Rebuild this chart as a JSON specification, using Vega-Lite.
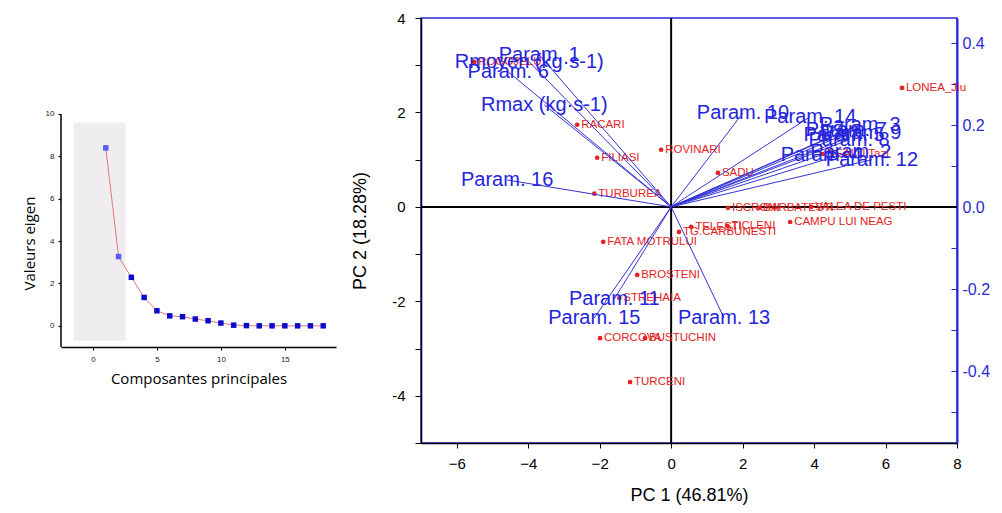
{
  "$schema": "https://vega.github.io/schema/vega-lite/v6.json",
  "padding": {"left": 22, "top": 10, "right": 0, "bottom": 0},
  "spacing": 14,
  "bounds": "full",
  "config": {"font": "Liberation Sans", "view": {"stroke": null}, "axis": {"grid": false, "labelOverlap": false}},
  "datasets": {
    "eigen": [
      {"pc": 1, "ev": 8.4}, {"pc": 2, "ev": 3.27}, {"pc": 3, "ev": 2.29}, {"pc": 4, "ev": 1.34},
      {"pc": 5, "ev": 0.71}, {"pc": 6, "ev": 0.47}, {"pc": 7, "ev": 0.43}, {"pc": 8, "ev": 0.32},
      {"pc": 9, "ev": 0.24}, {"pc": 10, "ev": 0.13}, {"pc": 11, "ev": 0.03}, {"pc": 12, "ev": 0.01},
      {"pc": 13, "ev": 0.0}, {"pc": 14, "ev": 0.0}, {"pc": 15, "ev": 0.0}, {"pc": 16, "ev": 0.0},
      {"pc": 17, "ev": 0.0}, {"pc": 18, "ev": 0.0}
    ],
    "loadings": [
      {"name": "Param. 1", "ox": 0, "oy": 0, "x": -3.69, "y": 3.22},
      {"name": "Rmoyen (kg·s-1)", "ox": 0, "oy": 0, "x": -3.97, "y": 3.07},
      {"name": "Param. 6", "ox": 0, "oy": 0, "x": -4.56, "y": 2.86},
      {"name": "Rmax (kg·s-1)", "ox": 0, "oy": 0, "x": -3.55, "y": 2.16},
      {"name": "Param. 16", "ox": 0, "oy": 0, "x": -4.59, "y": 0.57},
      {"name": "Param. 10", "ox": 0, "oy": 0, "x": 2.01, "y": 1.99},
      {"name": "Param. 14", "ox": 0, "oy": 0, "x": 3.89, "y": 1.91},
      {"name": "Param. 3", "ox": 0, "oy": 0, "x": 5.29, "y": 1.74},
      {"name": "Param. 9", "ox": 0, "oy": 0, "x": 5.31, "y": 1.57},
      {"name": "Param. 7", "ox": 0, "oy": 0, "x": 4.9, "y": 1.63},
      {"name": "Param. 8", "ox": 0, "oy": 0, "x": 4.98, "y": 1.42},
      {"name": "Param. 5", "ox": 0, "oy": 0, "x": 4.84, "y": 1.53},
      {"name": "Param. 2", "ox": 0, "oy": 0, "x": 5.03, "y": 1.17},
      {"name": "Param. 4", "ox": 0, "oy": 0, "x": 4.2, "y": 1.1},
      {"name": "Param. 12", "ox": 0, "oy": 0, "x": 5.62, "y": 1.0},
      {"name": "Param. 11", "ox": 0, "oy": 0, "x": -1.59, "y": -1.95},
      {"name": "Param. 15", "ox": 0, "oy": 0, "x": -2.15, "y": -2.35},
      {"name": "Param. 13", "ox": 0, "oy": 0, "x": 1.48, "y": -2.35}
    ],
    "obs": [
      {"site": "LONEA_Jiu", "x": 6.46, "y": 2.52},
      {"site": "ROGOJELU", "x": -5.51, "y": 3.07},
      {"site": "RACARI", "x": -2.63, "y": 1.74},
      {"site": "ROVINARI", "x": -0.28, "y": 1.21},
      {"site": "FILIASI", "x": -2.07, "y": 1.04},
      {"site": "SADU", "x": 1.31, "y": 0.72},
      {"site": "TURBUREA", "x": -2.15, "y": 0.28},
      {"site": "DEALU Tazi", "x": 4.25, "y": 1.12},
      {"site": "ISCRONI", "x": 1.59, "y": -0.02},
      {"site": "BARBATESTI", "x": 2.46, "y": -0.02},
      {"site": "VALEA DE PESTI", "x": 3.92, "y": 0.0},
      {"site": "CAMPU LUI NEAG", "x": 3.33, "y": -0.32},
      {"site": "TELESTI", "x": 0.56, "y": -0.42},
      {"site": "TICLENI", "x": 1.57, "y": -0.4},
      {"site": "TG.CARBUNESTI", "x": 0.22, "y": -0.53},
      {"site": "FATA MOTRULUI", "x": -1.9, "y": -0.74},
      {"site": "BROSTENI", "x": -0.95, "y": -1.44},
      {"site": "STREHAIA", "x": -1.45, "y": -1.93},
      {"site": "CORCOVA", "x": -1.99, "y": -2.78},
      {"site": "BUSTUCHIN", "x": -0.73, "y": -2.78},
      {"site": "TURCENI", "x": -1.15, "y": -3.71}
    ]
  },
  "hconcat": [
    {
      "width": 275,
      "height": 329,
      "layer": [
        {
          "data": {"values": [{"x1": -1.5, "x2": 2.55, "y1": -0.7, "y2": 9.6}]},
          "mark": {"type": "rect", "color": "#efedef"},
          "encoding": {
            "x": {"field": "x1", "type": "quantitative",
              "scale": {"domain": [-2.5, 19], "nice": false, "zero": false},
              "axis": {"title": "Composantes principales", "values": [0, 2.5, 5, 7.5, 10, 12.5, 15, 17.5],
                "labelOpacity": {"condition": {"test": "datum.value % 5 != 0", "value": 0}, "value": 1},
                "domainColor": "black", "domainWidth": 1.5, "tickColor": "black", "tickSize": 3,
                "labelFontSize": 8, "labelColor": "#222", "labelPadding": 5, "labelFlush": false,
                "titleFont": "Open Sans", "titleFontSize": 15, "titleFontWeight": "normal", "titleColor": "black", "titlePadding": 8}},
            "x2": {"field": "x2"},
            "y": {"field": "y1", "type": "quantitative",
              "scale": {"domain": [-1, 14.53], "nice": false, "zero": false},
              "axis": {"title": "Valeurs eigen", "values": [0, 2, 4, 6, 8, 10],
                "domain": false,
                "tickColor": "black", "tickSize": 3, "tickWidth": 1.2,
                "labelFontSize": 8, "labelColor": "#222", "labelPadding": 4,
                "titleFont": "Open Sans", "titleFontSize": 15, "titleFontWeight": "normal", "titleColor": "black", "titlePadding": 8, "titleY": 225}},
            "y2": {"field": "y2"}
          }
        },
        {
          "data": {"values": [{"ax": -2.5, "lo": -1, "hi": 10}]},
          "mark": {"type": "rule", "color": "black", "strokeWidth": 1.5},
          "encoding": {
            "x": {"field": "ax", "type": "quantitative"},
            "y": {"field": "lo", "type": "quantitative"},
            "y2": {"field": "hi"}
          }
        },
        {
          "data": {"name": "eigen"},
          "mark": {"type": "line", "color": "#e07878", "strokeWidth": 1},
          "encoding": {
            "x": {"field": "pc", "type": "quantitative"},
            "y": {"field": "ev", "type": "quantitative"}
          }
        },
        {
          "data": {"name": "eigen"},
          "mark": {"type": "square", "size": 30, "opacity": 1, "filled": true},
          "encoding": {
            "x": {"field": "pc", "type": "quantitative"},
            "y": {"field": "ev", "type": "quantitative"},
            "color": {"condition": {"test": "datum.pc <= 2", "value": "#5a5af0"}, "value": "#0a0acc"}
          }
        }
      ]
    },
    {
      "width": 536,
      "height": 425,
      "view": {"stroke": "#2a2ad6", "strokeWidth": 1.5},
      "resolve": {"scale": {"y": "independent"}},
      "layer": [
        {
          "data": {"values": [{"v": 0}]},
          "mark": {"type": "rule", "color": "black", "strokeWidth": 2},
          "encoding": {
            "y": {"field": "v", "type": "quantitative",
              "scale": {"domain": [-0.5756, 0.461], "nice": false, "zero": false},
              "axis": {"orient": "right", "title": null, "format": ".1f",
                "values": [-0.5, -0.4, -0.3, -0.2, -0.1, 0, 0.1, 0.2, 0.3, 0.4],
                "labelExpr": "abs(round(datum.value*10)) % 2 == 0 ? replace(datum.label, '−', '-') : ''",
                "domainColor": "#2a2ad6", "domainWidth": 2, "tickColor": "#2a2ad6", "tickSize": -6,
                "labelColor": "#2a2ad6", "labelFontSize": 16, "labelPadding": 11}}
          }
        },
        {
          "layer": [
            {
              "data": {"name": "obs"},
              "mark": {"type": "circle", "size": 22, "color": "#e42222", "opacity": 1},
              "encoding": {
                "x": {"field": "x", "type": "quantitative",
                  "scale": {"domain": [-7, 8], "nice": false, "zero": false},
                  "axis": {"title": "PC 1 (46.81%)", "values": [-6, -4, -2, 0, 2, 4, 6, 8],
                    "domainColor": "black", "domainWidth": 1.5, "tickColor": "black", "tickSize": 5,
                    "labelFontSize": 15, "labelColor": "black", "labelPadding": 8, "labelFlush": false,
                    "titleFontSize": 18, "titleFontWeight": "normal", "titleColor": "black", "titlePadding": 15}},
                "y": {"field": "y", "type": "quantitative",
                  "scale": {"domain": [-5, 4], "nice": false, "zero": false},
                  "axis": {"title": "PC 2 (18.28%)", "orient": "left", "values": [-5, -4, -3, -2, -1, 0, 1, 2, 3, 4],
                    "labelExpr": "datum.value % 2 == 0 ? replace(datum.label, '−', '-') : ''",
                    "domainColor": "black", "domainWidth": 1.5, "tickColor": "black", "tickSize": 6,
                    "labelFontSize": 15, "labelColor": "black", "labelPadding": 10,
                    "titleFontSize": 18, "titleFontWeight": "normal", "titleColor": "black", "titlePadding": 22}}
              }
            },
            {
              "data": {"values": [{"v": 0}]},
              "mark": {"type": "rule", "color": "black", "strokeWidth": 2},
              "encoding": {"x": {"field": "v", "type": "quantitative"}}
            },
            {
              "data": {"name": "obs"},
              "mark": {"type": "text", "fontSize": 11.5, "color": "#e42222", "align": "left", "baseline": "middle", "dx": 4},
              "encoding": {
                "x": {"field": "x", "type": "quantitative"},
                "y": {"field": "y", "type": "quantitative"},
                "text": {"field": "site"}
              }
            },
            {
              "data": {"name": "loadings"},
              "mark": {"type": "rule", "color": "#3434d4", "strokeWidth": 1},
              "encoding": {
                "x": {"field": "ox", "type": "quantitative"},
                "y": {"field": "oy", "type": "quantitative"},
                "x2": {"field": "x"},
                "y2": {"field": "y"}
              }
            },
            {
              "data": {"name": "loadings"},
              "mark": {"type": "text", "fontSize": 20, "color": "#2424dd", "align": "center", "baseline": "middle"},
              "encoding": {
                "x": {"field": "x", "type": "quantitative"},
                "y": {"field": "y", "type": "quantitative"},
                "text": {"field": "name"}
              }
            }
          ]
        }
      ]
    }
  ]
}
